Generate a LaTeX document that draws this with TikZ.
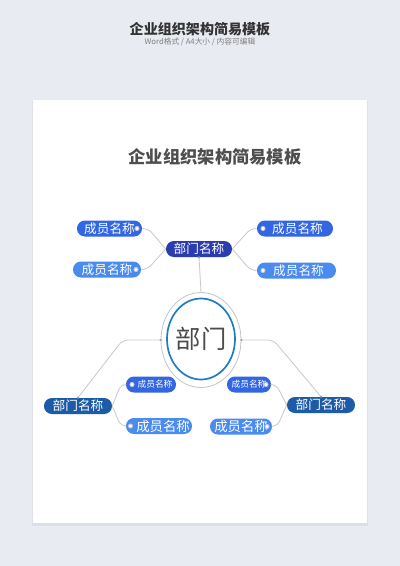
\documentclass[tikz,border=0pt]{standalone}
\usepackage{fontspec}
\setmainfont{Noto Sans CJK SC}
\usepackage{xcolor}
\usetikzlibrary{shapes.geometric}
\newdimen\pxunit \pxunit=0.025cm
\definecolor{pagebg}{HTML}{E9EBF2}
\definecolor{shadowgrey}{HTML}{DCDFE7}
\definecolor{linkgrey}{HTML}{C6CAD2}
\definecolor{deptnavy}{HTML}{2A3CAE}
\definecolor{deptsteel}{HTML}{1D5BA7}
\definecolor{memberblue}{HTML}{3366E3}
\definecolor{memberlight}{HTML}{4A8BF0}
\definecolor{ringblue}{HTML}{1E7CC4}
\definecolor{titlegrey}{HTML}{4E4E4E}

\begin{document}
\begin{tikzpicture}[x=0.025cm,y=-0.025cm,
  dept/.style={rounded corners=5.6pt,text=white,inner sep=0pt,
    font=\fontsize{9}{9}\selectfont,minimum height=16*\pxunit},
  member/.style={rounded corners=5.6pt,text=white,inner sep=0pt,
    font=\fontsize{9}{9}\selectfont,minimum height=16*\pxunit},
  knob/.style={circle,fill=white,draw=linkgrey,line width=0.7pt,
    inner sep=0pt,minimum size=4*\pxunit},
  pin/.style={circle,fill=linkgrey!80!black,inner sep=0pt,minimum size=2.5*\pxunit},
  link/.style={draw=linkgrey,line width=0.6pt,rounded corners=4pt}]
% page and card
\fill[pagebg] (0,0) rectangle (400,566);
\fill[shadowgrey] (32,101) rectangle (368,526);
\fill[white] (33,100) rectangle (367,523);
\node[font=\fontsize{10}{10}\selectfont\bfseries,text=black!80] (head) at (200,29) {企业组织架构简易模板};
\node[font=\fontsize{5.5}{5.5}\selectfont,text=black!50] (subhead) at (200,42) {Word格式 / A4大小 / 内容可编辑};
\node[font=\fontsize{12.3}{12.3}\selectfont\bfseries,text=titlegrey] (title) at (215,157) {企业组织架构简易模板};

% centre
\node[ellipse,draw=black!22,line width=0.6pt,fill=white,inner sep=0pt,minimum width=80*\pxunit,minimum height=95*\pxunit] (ring) at (201,340) {};
\node[ellipse,draw=ringblue,line width=1.2pt,inner sep=0pt,minimum width=68*\pxunit,minimum height=81*\pxunit] (core) at (201,339) {};
\node[font=\fontsize{18}{18}\selectfont,text=black!70] (word) at (core) {部门};

% departments
\node[dept,fill=deptnavy,minimum width=66*\pxunit] (top) at (199,249) {部门名称};
\node[dept,fill=deptsteel,minimum width=68*\pxunit] (left) at (78,406) {部门名称};
\node[dept,fill=deptsteel,minimum width=68*\pxunit] (right) at (321,405) {部门名称};

% members
\node[member,fill=memberblue,minimum width=65*\pxunit] (tl1) at (109.5,228.5) {成员名称\hspace{9\pxunit}};
\node[member,fill=memberlight,minimum width=68*\pxunit] (tl2) at (107,269.5) {成员名称\hspace{12\pxunit}};
\node[member,fill=memberblue,minimum width=76*\pxunit] (tr1) at (295,228.5) {\hspace{5\pxunit}成员名称};
\node[member,fill=memberlight,minimum width=79*\pxunit] (tr2) at (296.5,270.5) {\hspace{4\pxunit}成员名称};
\node[member,fill=memberblue,minimum width=50*\pxunit,font=\fontsize{6.2}{6.2}\selectfont] (bl1) at (151,384.5) {\hspace{8\pxunit}成员名称};
\node[member,fill=memberlight,minimum width=66*\pxunit,font=\fontsize{9.5}{9.5}\selectfont] (bl2) at (159,426) {\hspace{8\pxunit}成员名称};
\node[member,fill=memberblue,minimum width=44*\pxunit,font=\fontsize{6.2}{6.2}\selectfont] (br1) at (249,384.5) {成员名称\hspace{6\pxunit}};
\node[member,fill=memberlight,minimum width=62*\pxunit,font=\fontsize{9.5}{9.5}\selectfont] (br2) at (241,426.5) {成员名称\hspace{4\pxunit}};

% connectors
\draw[link] (tl1.east) -- ++(6,0) -- (top.west);
\draw[link] (tl2.east) -- ++(6,0) -- (top.west);
\draw[link] (top.east) -- ([xshift=-6*\pxunit]tr1.west) -- (tr1.west);
\draw[link] (top.east) -- ([xshift=-6*\pxunit]tr2.west) -- (tr2.west);
\draw[link] (top.south) -- (ring.north);
\draw[link] (ring.west) -- ++(-38,0) -- (left.north);
\draw[link] (ring.east) -- ++(32,0) -- (right.north);
\draw[link] (left.east) -- ([xshift=-5*\pxunit]bl1.west) -- (bl1.west);
\draw[link] (left.east) -- ([xshift=-5*\pxunit]bl2.west) -- (bl2.west);
\draw[link] (right.west) -- ([xshift=5*\pxunit]br1.east) -- (br1.east);
\draw[link] (right.west) -- ([xshift=5*\pxunit]br2.east) -- (br2.east);

% knobs
\node[knob] (ktl1) at (137,228.5) {};
\node[knob] (ktl2) at (136,269.5) {};
\node[knob] (ktr1) at (263,228.5) {};
\node[knob] (ktr2) at (263,270.5) {};
\node[knob] (kbl1) at (132,384.5) {};
\node[knob] (kbl2) at (130.5,426) {};
\node[knob] (kbr1) at (266,384.5) {};
\node[knob] (kbr2) at (267,426.5) {};
\node[pin] (ptop) at (top.south) {};
\node[pin] (pleft) at (left.north) {};
\node[pin] (pright) at (right.north) {};
\node[pin] (pringw) at (ring.west) {};
\node[pin] (pringe) at (ring.east) {};
\end{tikzpicture}
\end{document}
